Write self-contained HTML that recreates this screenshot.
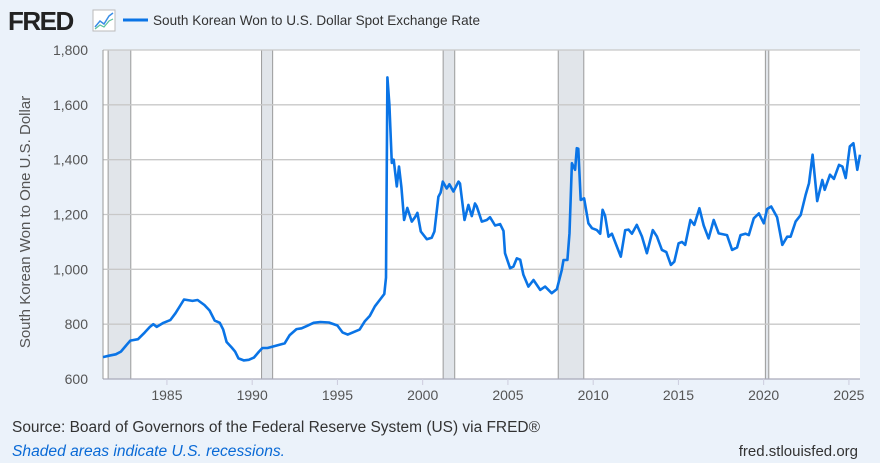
<!DOCTYPE html>
<html><head><meta charset="utf-8">
<style>
html,body{margin:0;padding:0;background:#ebf2fa;}
body{width:880px;height:463px;position:relative;overflow:hidden;font-family:"Liberation Sans",sans-serif;}
svg{position:absolute;left:0;top:0;}
</style></head>
<body>
<svg id="chart" width="880" height="463">
  <text x="8" y="30" font-size="26" font-weight="bold" fill="#222" letter-spacing="-1.5">FRED</text>
  <g>
    <rect x="93" y="10" width="22" height="21" fill="#fff" stroke="#bbb"/>
    <polyline points="95,27 100,21 104,24 109,16 113,13" fill="none" stroke="#3a8ee6" stroke-width="1.5"/>
    <polyline points="95,29 100,25 104,27 109,21 113,19" fill="none" stroke="#5cc29c" stroke-width="1.2"/>
  </g>
  <line x1="123" y1="20" x2="148" y2="20" stroke="#0a74e6" stroke-width="3"/>
  <text x="153" y="25" font-size="14" fill="#333" textLength="327" lengthAdjust="spacingAndGlyphs">South Korean Won to U.S. Dollar Spot Exchange Rate</text>
  <text transform="translate(30,222) rotate(-90)" text-anchor="middle" font-size="15" fill="#555">South Korean Won to One U.S. Dollar</text>
  <rect x="103" y="50" width="757" height="329" fill="#fff"/>
  <g id="rec"></g>
  <g id="grid"></g>
  <g id="ticks"></g>
  <path id="series" fill="none" stroke="#0a74e6" stroke-width="2.6" stroke-linejoin="round"/>
  <text x="12" y="432" font-size="15.5" fill="#333" textLength="528" lengthAdjust="spacingAndGlyphs">Source: Board of Governors of the Federal Reserve System (US) via FRED®</text>
  <text x="12" y="456" font-size="15.5" font-style="italic" fill="#0a6ad6" textLength="273" lengthAdjust="spacingAndGlyphs">Shaded areas indicate U.S. recessions.</text>
  <text x="858" y="456" font-size="15" fill="#333" text-anchor="end">fred.stlouisfed.org</text>
</svg>
<script>
const yTicks=[600,800,1000,1200,1400,1600,1800];
const yTickLabels=["600","800","1,000","1,200","1,400","1,600","1,800"];
const xTicks=[1985,1990,1995,2000,2005,2010,2015,2020,2025];
const recStart=[1981.55,1990.55,2001.2,2007.95,2020.1];
const recEnd=[1982.88,1991.2,2001.88,2009.45,2020.3];
const years=[1981.25,1981.6,1982.0,1982.3,1982.6,1982.85,1983.3,1983.7,1984.0,1984.2,1984.4,1984.8,1985.2,1985.5,1985.8,1986.0,1986.5,1986.8,1987.2,1987.5,1987.8,1988.1,1988.3,1988.5,1988.8,1989.0,1989.2,1989.5,1989.8,1990.1,1990.4,1990.6,1990.9,1991.2,1991.6,1991.9,1992.2,1992.6,1992.9,1993.2,1993.6,1994.0,1994.5,1995.0,1995.3,1995.6,1995.9,1996.3,1996.6,1996.9,1997.2,1997.5,1997.75,1997.85,1997.93,1998.05,1998.19,1998.3,1998.48,1998.61,1998.75,1998.91,1999.1,1999.36,1999.55,1999.69,1999.89,2000.24,2000.53,2000.69,2000.92,2001.05,2001.18,2001.41,2001.57,2001.8,2002.1,2002.19,2002.45,2002.68,2002.88,2003.07,2003.17,2003.47,2003.76,2003.95,2004.25,2004.54,2004.74,2004.83,2005.13,2005.32,2005.52,2005.72,2005.91,2006.2,2006.5,2006.89,2007.18,2007.57,2007.87,2008.16,2008.26,2008.49,2008.61,2008.75,2008.94,2009.04,2009.13,2009.27,2009.47,2009.72,2009.93,2010.22,2010.41,2010.55,2010.7,2010.9,2011.1,2011.39,2011.62,2011.88,2012.07,2012.27,2012.56,2012.86,2013.15,2013.5,2013.74,2014.03,2014.29,2014.56,2014.76,2015.01,2015.21,2015.4,2015.7,2015.93,2016.23,2016.48,2016.77,2017.07,2017.36,2017.85,2018.15,2018.44,2018.64,2018.93,2019.13,2019.42,2019.72,2020.01,2020.2,2020.44,2020.79,2021.09,2021.38,2021.58,2021.87,2022.17,2022.46,2022.66,2022.87,2023.14,2023.44,2023.58,2023.89,2024.12,2024.42,2024.62,2024.81,2025.05,2025.26,2025.49,2025.65];
const values=[680,685,690,700,722,740,745,770,790,800,790,805,815,840,870,890,885,888,870,850,813,805,780,735,715,700,675,668,670,678,700,713,713,718,725,730,760,782,785,793,805,808,806,795,770,762,770,780,810,830,865,890,910,970,1700,1600,1388,1400,1302,1375,1300,1180,1224,1174,1190,1206,1138,1110,1115,1138,1265,1280,1320,1295,1310,1284,1320,1313,1180,1235,1194,1240,1230,1174,1180,1190,1160,1165,1140,1059,1004,1010,1040,1035,980,937,961,925,937,913,928,998,1034,1034,1132,1387,1363,1442,1440,1253,1259,1168,1150,1143,1130,1217,1195,1119,1130,1083,1046,1143,1145,1130,1162,1120,1059,1143,1120,1071,1063,1016,1028,1095,1100,1089,1180,1162,1223,1160,1113,1180,1131,1125,1071,1080,1125,1130,1125,1186,1204,1168,1220,1229,1190,1089,1119,1119,1174,1198,1271,1314,1418,1249,1326,1290,1345,1330,1381,1375,1333,1448,1460,1363,1418];
const X0=103,X1=860,Y0=379,Y1=50,xmin=1981.25,xmax=2025.65,ymin=600,ymax=1800;
function xs(v){return X0+(v-xmin)/(xmax-xmin)*(X1-X0);}
function ys(v){return Y0-(v-ymin)/(ymax-ymin)*(Y0-Y1);}
const NS="http://www.w3.org/2000/svg";
const rec=document.getElementById('rec'),grid=document.getElementById('grid'),ticks=document.getElementById('ticks');
for(let i=0;i<recStart.length;i++){
  const r=document.createElementNS(NS,'rect');
  const a=xs(recStart[i]),b=xs(recEnd[i]);
  r.setAttribute('x',a);r.setAttribute('y',Y1);r.setAttribute('width',Math.max(b-a,1));r.setAttribute('height',Y0-Y1);
  r.setAttribute('fill','#e1e5ea');r.setAttribute('stroke','#9a9a9a');r.setAttribute('stroke-width','1');
  
  
  rec.appendChild(r);
}
for(let i=0;i<yTicks.length;i++){
  const y=ys(yTicks[i]);
  if(i>0){
    const l=document.createElementNS(NS,'line');
    l.setAttribute('x1',X0);l.setAttribute('x2',X1);l.setAttribute('y1',y);l.setAttribute('y2',y);
    l.setAttribute('stroke','#c8c8c8');l.setAttribute('stroke-width','1.3');
    
    
    grid.appendChild(l);
  }
  const t=document.createElementNS(NS,'text');
  t.setAttribute('x',88);t.setAttribute('y',y+5);t.setAttribute('text-anchor','end');
  t.setAttribute('font-size','14');t.setAttribute('fill','#555');
  t.textContent=yTickLabels[i];
  
  
  ticks.appendChild(t);
}
const ax=document.createElementNS(NS,'line');
ax.setAttribute('x1',X0);ax.setAttribute('x2',X1);ax.setAttribute('y1',Y0);ax.setAttribute('y2',Y0);
ax.setAttribute('stroke','#aab');ax.setAttribute('stroke-width','1.3');


ticks.appendChild(ax);
const ay=document.createElementNS(NS,'line');
ay.setAttribute('x1',X0);ay.setAttribute('x2',X0);ay.setAttribute('y1',Y1);ay.setAttribute('y2',Y0);
ay.setAttribute('stroke','#999');ay.setAttribute('stroke-width','1');


ticks.appendChild(ay);
for(const yr of xTicks){
  const x=xs(yr);
  const m=document.createElementNS(NS,'line');
  m.setAttribute('x1',x);m.setAttribute('x2',x);m.setAttribute('y1',Y0);m.setAttribute('y2',Y0+6);
  m.setAttribute('stroke','#ccd');
  
  
  ticks.appendChild(m);
  const t=document.createElementNS(NS,'text');
  t.setAttribute('x',x);t.setAttribute('y',400);t.setAttribute('text-anchor','middle');
  t.setAttribute('font-size','14');t.setAttribute('fill','#555');
  t.textContent=yr;
  
  
  ticks.appendChild(t);
}
let d='';
for(let i=0;i<years.length;i++){d+=(i?'L':'M')+xs(years[i]).toFixed(1)+','+ys(values[i]).toFixed(1);}
document.getElementById('series').setAttribute('d',d);
</script>
</body></html>
